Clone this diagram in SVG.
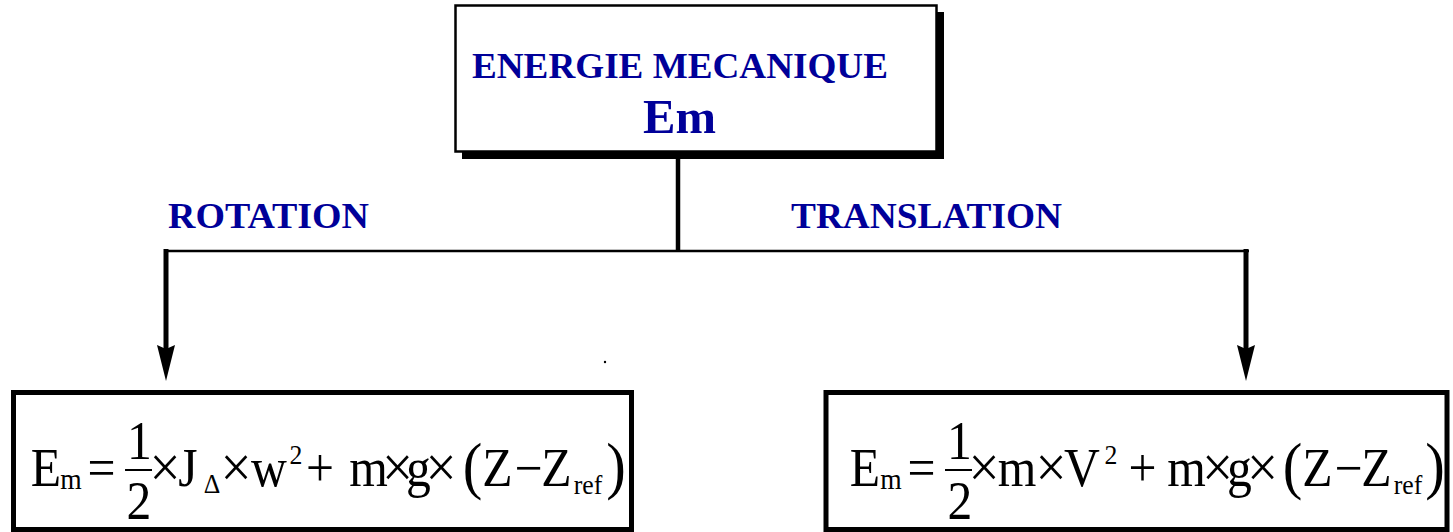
<svg xmlns="http://www.w3.org/2000/svg" width="1453" height="532" viewBox="0 0 1453 532">
<style>
.lbl{font-family:"Liberation Serif","Times New Roman",serif;font-weight:bold;fill:#000099}
.f{font-family:"Liberation Serif","Times New Roman",serif;fill:#000;font-size:54px;text-anchor:middle}
.s{font-size:30px}
.sp{font-size:28px}
.p{font-size:64px}
.x{font-size:60px}
.box{fill:#fff;stroke:#000}
.conn{stroke:#000;fill:none}
</style>
<defs>
<marker id="arrow" viewBox="0 0 36 18" refX="4" refY="9" markerWidth="36" markerHeight="18" markerUnits="userSpaceOnUse" orient="auto">
<path d="M0,0 L36,9 L0,18 L4,9 Z" fill="#000"/>
</marker>
</defs>
<rect width="1453" height="532" fill="#fff"/>
<g id="connectors">
<line class="conn" x1="678" y1="158" x2="678" y2="251" stroke-width="4.5"/>
<line class="conn" x1="164" y1="251" x2="1249" y2="251" stroke-width="2.5"/>
<path class="conn" d="M166,249 L166,349" stroke-width="5" marker-end="url(#arrow)"/>
<path class="conn" d="M1246,249 L1246,349" stroke-width="5" marker-end="url(#arrow)"/>
</g>
<g id="node-energie">
<rect x="462" y="12" width="482" height="147" fill="#000"/>
<rect class="box" x="455.5" y="5.5" width="481" height="146" stroke-width="2.5"/>
<text class="lbl" x="472" y="78" font-size="36" textLength="416" lengthAdjust="spacingAndGlyphs">ENERGIE MECANIQUE</text>
<text class="lbl" x="643" y="133" font-size="49" textLength="73" lengthAdjust="spacingAndGlyphs">Em</text>
</g>
<g id="label-rotation">
<text class="lbl" x="168" y="228" font-size="36" textLength="201" lengthAdjust="spacingAndGlyphs">ROTATION</text>
</g>
<g id="label-translation">
<text class="lbl" x="791" y="228" font-size="36" textLength="271" lengthAdjust="spacingAndGlyphs">TRANSLATION</text>
</g>
<circle cx="605" cy="362" r="1.2" fill="#000"/>
<g id="node-rotation">
<rect class="box" x="13.5" y="392.5" width="618" height="137" stroke-width="5"/>
<g class="f" transform="scale(0.92,1)">
<text x="50" y="486">E</text>
<text class="s" x="77.2" y="489">m</text>
<text x="110.3" y="486">=</text>
<text x="151.6" y="459">1</text>
<line x1="135.9" y1="470" x2="165.2" y2="470" stroke="#000" stroke-width="2"/>
<text x="151.1" y="519">2</text>
<text class="x" x="179.4" y="487">×</text>
<text x="204.4" y="486">J</text>
<text x="230.4" y="493" font-size="28">Δ</text>
<text class="x" x="256.5" y="487">×</text>
<text x="292.4" y="486">w</text>
<text class="sp" x="321.7" y="464">2</text>
<text x="347.8" y="486">+</text>
<text x="400.5" y="486">m</text>
<text class="x" x="432.1" y="487">×</text>
<text x="454.9" y="486">g</text>
<text class="x" x="479.4" y="487">×</text>
<text class="p" x="513.6" y="487">(</text>
<text x="540.8" y="486">Z</text>
<text x="574.5" y="486">−</text>
<text x="604.9" y="486">Z</text>
<text class="sp" x="639.1" y="494">ref</text>
<text class="p" x="669.6" y="487">)</text>
</g>
</g>
<g id="node-translation">
<rect class="box" x="826" y="392.5" width="621" height="137" stroke-width="5"/>
<g class="f" transform="scale(0.92,1)">
<text x="940.2" y="486">E</text>
<text class="s" x="968.5" y="489">m</text>
<text x="1001.6" y="486">=</text>
<text x="1042.9" y="459">1</text>
<line x1="1027.2" y1="470" x2="1056.5" y2="470" stroke="#000" stroke-width="2"/>
<text x="1043.5" y="519">2</text>
<text class="x" x="1069.6" y="487">×</text>
<text x="1105.4" y="486">m</text>
<text class="x" x="1142.4" y="487">×</text>
<text x="1176.1" y="486">V</text>
<text class="sp" x="1207.6" y="464">2</text>
<text x="1241.9" y="486">+</text>
<text x="1289.7" y="486">m</text>
<text class="x" x="1323.4" y="487">×</text>
<text x="1347.3" y="486">g</text>
<text class="x" x="1372.3" y="487">×</text>
<text class="p" x="1404.9" y="487">(</text>
<text x="1432.1" y="486">Z</text>
<text x="1465.8" y="486">−</text>
<text x="1496.2" y="486">Z</text>
<text class="sp" x="1530.4" y="494">ref</text>
<text class="p" x="1559.8" y="487">)</text>
</g>
</g>
</svg>
